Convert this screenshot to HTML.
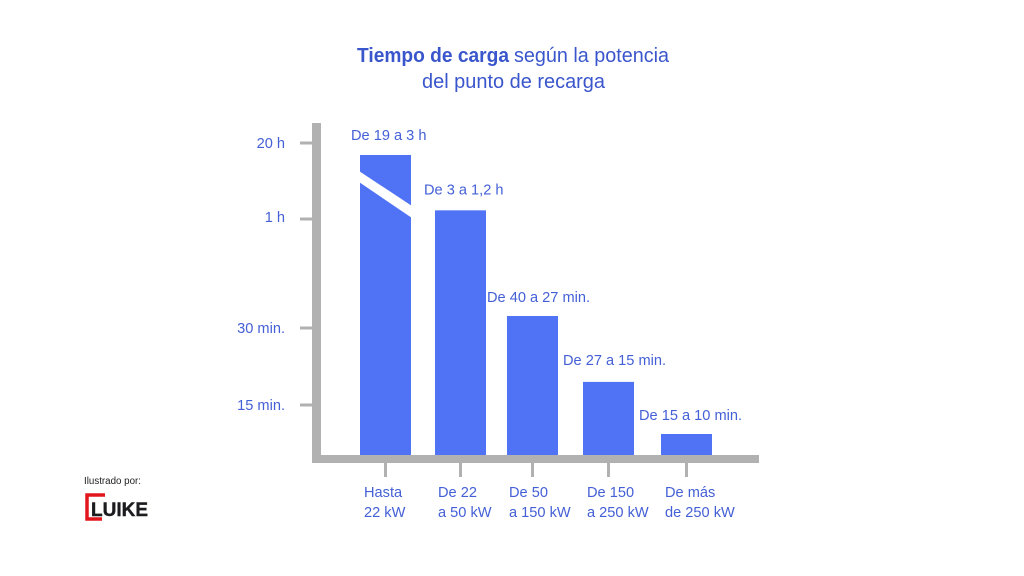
<!DOCTYPE html>
<html lang="es">
<head>
<meta charset="utf-8">
<title>Tiempo de carga</title>
<style>
  html, body { margin: 0; padding: 0; background: #fff; }
  svg { display: block; font-family: "Liberation Sans", sans-serif; }
  .lbl { fill: #4460d6; font-size: 14.6px; }
  .ttl { fill: #3a56cc; font-size: 20px; }
</style>
</head>
<body>
<svg id="chart" width="1024" height="576" viewBox="0 0 1024 576" xmlns="http://www.w3.org/2000/svg">
  <rect width="1024" height="576" fill="#ffffff"/>
  <g>
    <text class="ttl" x="357" y="62" font-weight="bold" textLength="152" lengthAdjust="spacingAndGlyphs">Tiempo de carga</text>
    <text class="ttl" x="514" y="62" textLength="155" lengthAdjust="spacingAndGlyphs">según la potencia</text>
    <text class="ttl" x="422" y="88" textLength="183" lengthAdjust="spacingAndGlyphs">del punto de recarga</text>
  </g>
  <g id="plot"></g>
  <g>
    <text x="84" y="484" font-size="10" fill="#222222" textLength="57" lengthAdjust="spacingAndGlyphs">Ilustrado por:</text>
    <path d="M105 495 H87 V519 H102" fill="none" stroke="#e3161d" stroke-width="3.5"/>
    <text x="91" y="516" font-size="19" font-weight="bold" fill="#1c1c20" stroke="#1c1c20" stroke-width="0.4" textLength="57" lengthAdjust="spacingAndGlyphs">LUIKE</text>
  </g>
</svg>
<script>
// Chart data (bar heights are in minutes)
const categoryLine1 = ["Hasta", "De 22", "De 50", "De 150", "De más"];
const categoryLine2 = ["22 kW", "a 50 kW", "a 150 kW", "a 250 kW", "de 250 kW"];
const barMinutes = [1020, 190, 33.3, 19.5, 6.3];
const barLabels = ["De 19 a 3 h", "De 3 a 1,2 h", "De 40 a 27 min.", "De 27 a 15 min.", "De 15 a 10 min."];
const yTickMinutes = [1200, 60, 30, 15];
const yTickLabels = ["20 h", "1 h", "30 min.", "15 min."];

// The source axis is broken, so the y scale is piecewise linear between its printed ticks.
function yScale(minutes) {
  const knots = [[0, 455], [15, 405], [30, 328], [60, 219], [1200, 143]];
  for (let i = 1; i < knots.length; i++) {
    if (minutes <= knots[i][0] || i === knots.length - 1) {
      const a = knots[i - 1], b = knots[i];
      return a[1] + (minutes - a[0]) / (b[0] - a[0]) * (b[1] - a[1]);
    }
  }
}
function xCenter(i) {
  const band = [385.5, 460.5, 532.5, 608.5, 686.5];
  return band[i];
}
function valueLabelX(i) {
  const inset = [9, 11, 20, 20, 22];
  return xCenter(i) - 25.5 - inset[i];
}
function valueLabelGap(i) {
  const gap = [15, 16, 14, 17, 14];
  return gap[i];
}
function yLabelBaselineShift(i) {
  const shift = [5, 3, 5, 5];
  return shift[i];
}
function categoryLabelX(i) {
  const inset = [21.5, 22.5, 23.5, 21.5, 21.5];
  return xCenter(i) - inset[i];
}

const NS = "http://www.w3.org/2000/svg";
const plot = document.getElementById("plot");
const BASE_Y = 455;
const BAR_W = 51;
const GREY = "#b1b1b1";
const BAR_COLOR = "#5073f5";

function make(tag, attrs, text) {
  const el = document.createElementNS(NS, tag);
  for (const k in attrs) el.setAttribute(k, attrs[k]);
  if (text !== undefined) el.textContent = text;
  plot.appendChild(el);
  return el;
}

// Bars
barMinutes.forEach((v, i) => {
  const top = yScale(v);
  const bar = make("rect", { x: xCenter(i) - BAR_W / 2, y: top, width: BAR_W, height: BASE_Y - top, fill: BAR_COLOR });
  
  

  const label = make("text", { class: "lbl", x: valueLabelX(i), y: top - valueLabelGap(i) }, barLabels[i]);
  
  
});

// Break mark across the first bar
{
  const left = xCenter(0) - BAR_W / 2, right = left + BAR_W, top = yScale(barMinutes[0]);
  const slash = make("polygon", {
    points: [[left - 1, top + 16], [right + 1, top + 51], [right + 1, top + 63], [left - 1, top + 27]].join(" "),
    fill: "#ffffff"
  });
  
  
}

// Axes
const yAxis = make("rect", { x: 312, y: 123, width: 9, height: 340, fill: GREY });


const xAxis = make("rect", { x: 312, y: 455, width: 447, height: 8, fill: GREY });



// Y ticks
yTickMinutes.forEach((v, i) => {
  const y = yScale(v);
  const tick = make("rect", { x: 300, y: y - 1.5, width: 12, height: 3, fill: GREY });
  
  

  const label = make("text", { class: "lbl", x: 285, y: y + yLabelBaselineShift(i), "text-anchor": "end" }, yTickLabels[i]);
  
  
});

// X ticks
categoryLine1.forEach((c, i) => {
  const cx = xCenter(i);
  const tick = make("rect", { x: cx - 1.5, y: 463, width: 3, height: 14, fill: GREY });
  
  

  const top = make("text", { class: "lbl", x: categoryLabelX(i), y: 497 }, c);
  
  

  const bottom = make("text", { class: "lbl", x: categoryLabelX(i), y: 517 }, categoryLine2[i]);
  
  
});
</script>
</body>
</html>
